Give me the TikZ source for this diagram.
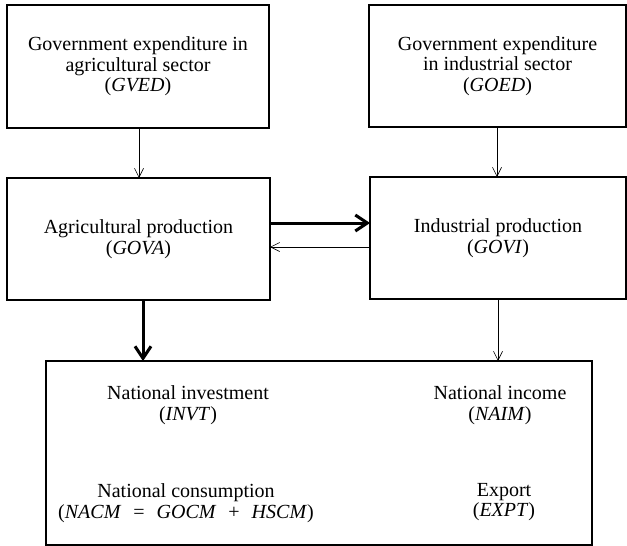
\documentclass[tikz,border=0pt]{standalone}
\usepackage{fontspec}
\setmainfont{Liberation Serif}
\usetikzlibrary{arrows.meta}
\begin{document}
\begin{tikzpicture}[x=1pt,y=-1pt,
  box/.style={draw, line width=1.1pt, inner sep=0pt, outer sep=0pt, align=center,
    font=\fontsize{20}{20.5}\selectfont},
  lbl/.style={inner sep=0pt, align=center, font=\fontsize{20}{20.5}\selectfont},
  thinarrow/.style={line width=0.6pt, -{Straight Barb[length=9pt,width=9pt,line width=0.6pt]}},
  thickarrow/.style={line width=3pt, -{Straight Barb[length=12pt,width=16pt,line width=3pt]}}]
\useasboundingbox (0,0) rectangle (627,546);
\node[box, minimum width=262pt, minimum height=123pt] (gved) at (138,66.5)
  {Government expenditure in\\agricultural sector\\(\textit{GVED})};
\node[box, minimum width=257pt, minimum height=122pt] (goed) at (497.5,66)
  {Government expenditure\\in industrial sector\\(\textit{GOED})};
\node[box, minimum width=263pt, minimum height=122pt] (agr) at (138.5,239)
  {Agricultural production\\(\textit{GOVA})};
\node[box, minimum width=256pt, minimum height=122pt] (ind) at (498,238)
  {Industrial production\\(\textit{GOVI})};
\node[box, minimum width=546pt, minimum height=184pt] (nat) at (319,453) {};
\node[lbl] (invt) at (188,405) {National investment\\(\textit{INVT})};
\node[lbl] (naim) at (500,405) {National income\\(\textit{NAIM})};
\node[lbl] (nacm) at (186,503) {National consumption\\(\textit{NACM}\hspace{0.6em}=\hspace{0.6em}\textit{GOCM}\hspace{0.6em}+\hspace{0.6em}\textit{HSCM})};
\node[lbl] (expt) at (504,502) {Export\\(\textit{EXPT})};
\draw[thinarrow] (gved.south -| 139,0) -- (agr.north -| 139,0);
\draw[thinarrow] (goed.south -| 497,0) -- (ind.north -| 497,0);
\draw[thinarrow] (ind.south -| 498,0) -- (nat.north -| 498,0);
\draw[thickarrow] (agr.east |- 0,223) -- (ind.west |- 0,223);
\draw[thinarrow] (ind.west |- 0,247) -- (agr.east |- 0,247);
\draw[thickarrow] (agr.south -| 143,0) -- (nat.north -| 143,0);
\end{tikzpicture}
\end{document}
